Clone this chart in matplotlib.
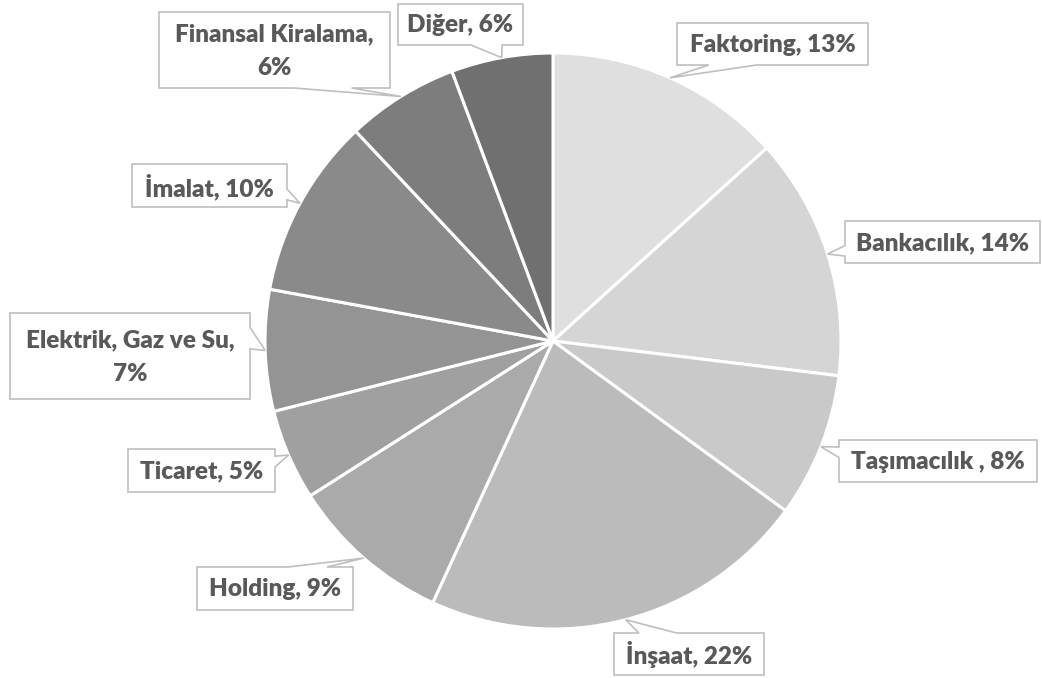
import numpy as np
import matplotlib
matplotlib.use("Agg")
import matplotlib.pyplot as plt
from matplotlib.patches import Polygon

# ---- data ----
categories = ["Faktoring", "Bankacılık", "Taşımacılık ", "İnşaat", "Holding",
              "Ticaret", "Elektrik, Gaz ve Su", "İmalat", "Finansal Kiralama", "Diğer"]
values = [13.3, 13.6, 8.1, 21.8, 9.1, 5.1, 6.8, 10.1, 6.3, 5.7]
colors = ["#dfdfdf", "#d5d5d5", "#c9c9c9", "#bbbbbb", "#aaaaaa",
          "#a0a0a0", "#949494", "#8a8a8a", "#7d7d7d", "#707070"]
line_break = [False, False, False, False, False, False, True, False, True, False]

# label boxes in pixel coords (x0, y0, x1, y1)
boxes = [(677, 23, 868, 65), (845, 221, 1040, 263), (839, 440, 1037, 482),
         (614, 633, 764, 675), (197, 567, 353, 610), (128, 449, 275, 492),
         (10, 313, 250, 399), (132, 164, 287, 207), (159, 12, 390, 88),
         (398, 4, 523, 45)]

W, H = 1042, 678
fig = plt.figure(figsize=(W / 100, H / 100), dpi=100)
ax = fig.add_axes([0, 0, 1, 1])
cx, cy, R = 553, 341, 288

ax.pie(values, colors=colors, startangle=-90, counterclock=True, radius=R,
       center=(cx, cy), wedgeprops=dict(edgecolor="white", linewidth=2.2))
ax.set_xlim(0, W)
ax.set_ylim(H, 0)
ax.axis("off")

total = sum(values)
cum = np.concatenate([[0], np.cumsum(values)])


def callout_poly(x0, y0, x1, y1, tip):
    w, h = x1 - x0, y1 - y0
    xc, yc = (x0 + x1) / 2, (y0 + y1) / 2
    dx, dy = tip[0] - xc, tip[1] - yc
    xa = x0 + w * (7 if dx > 0 else 2) / 12
    xb = x0 + w * (10 if dx > 0 else 5) / 12
    ya = y0 + h * (7 if dy > 0 else 2) / 12
    yb = y0 + h * (10 if dy > 0 else 5) / 12
    vertical = abs(dy) / h > abs(dx) / w
    pts = [(x0, y0)]
    if vertical and dy < 0:
        pts += [(xa, y0), tip, (xb, y0)]
    pts += [(x1, y0)]
    if not vertical and dx > 0:
        pts += [(x1, ya), tip, (x1, yb)]
    pts += [(x1, y1)]
    if vertical and dy > 0:
        pts += [(xb, y1), tip, (xa, y1)]
    pts += [(x0, y1)]
    if not vertical and dx < 0:
        pts += [(x0, yb), tip, (x0, ya)]
    return pts


for i, (name, v) in enumerate(zip(categories, values)):
    a = np.deg2rad((cum[i] + v / 2) / total * 360)
    tip = (cx + R * np.sin(a), cy - R * np.cos(a))
    x0, y0, x1, y1 = boxes[i]
    poly = Polygon(callout_poly(x0, y0, x1, y1, tip), closed=True,
                   facecolor="white", edgecolor="#bfbfbf", linewidth=1.2, zorder=5)
    ax.add_patch(poly)
    sep = ",\n" if line_break[i] else ", "
    label = f"{name}{sep}{round(v)}%"
    ax.text((x0 + x1) / 2, (y0 + y1) / 2 + 1, label, ha="center", va="center",
            fontsize=17.5, fontweight="heavy", color="#595959", family="Lato",
            linespacing=1.65, zorder=6)

fig.savefig("out.png", dpi=100)
